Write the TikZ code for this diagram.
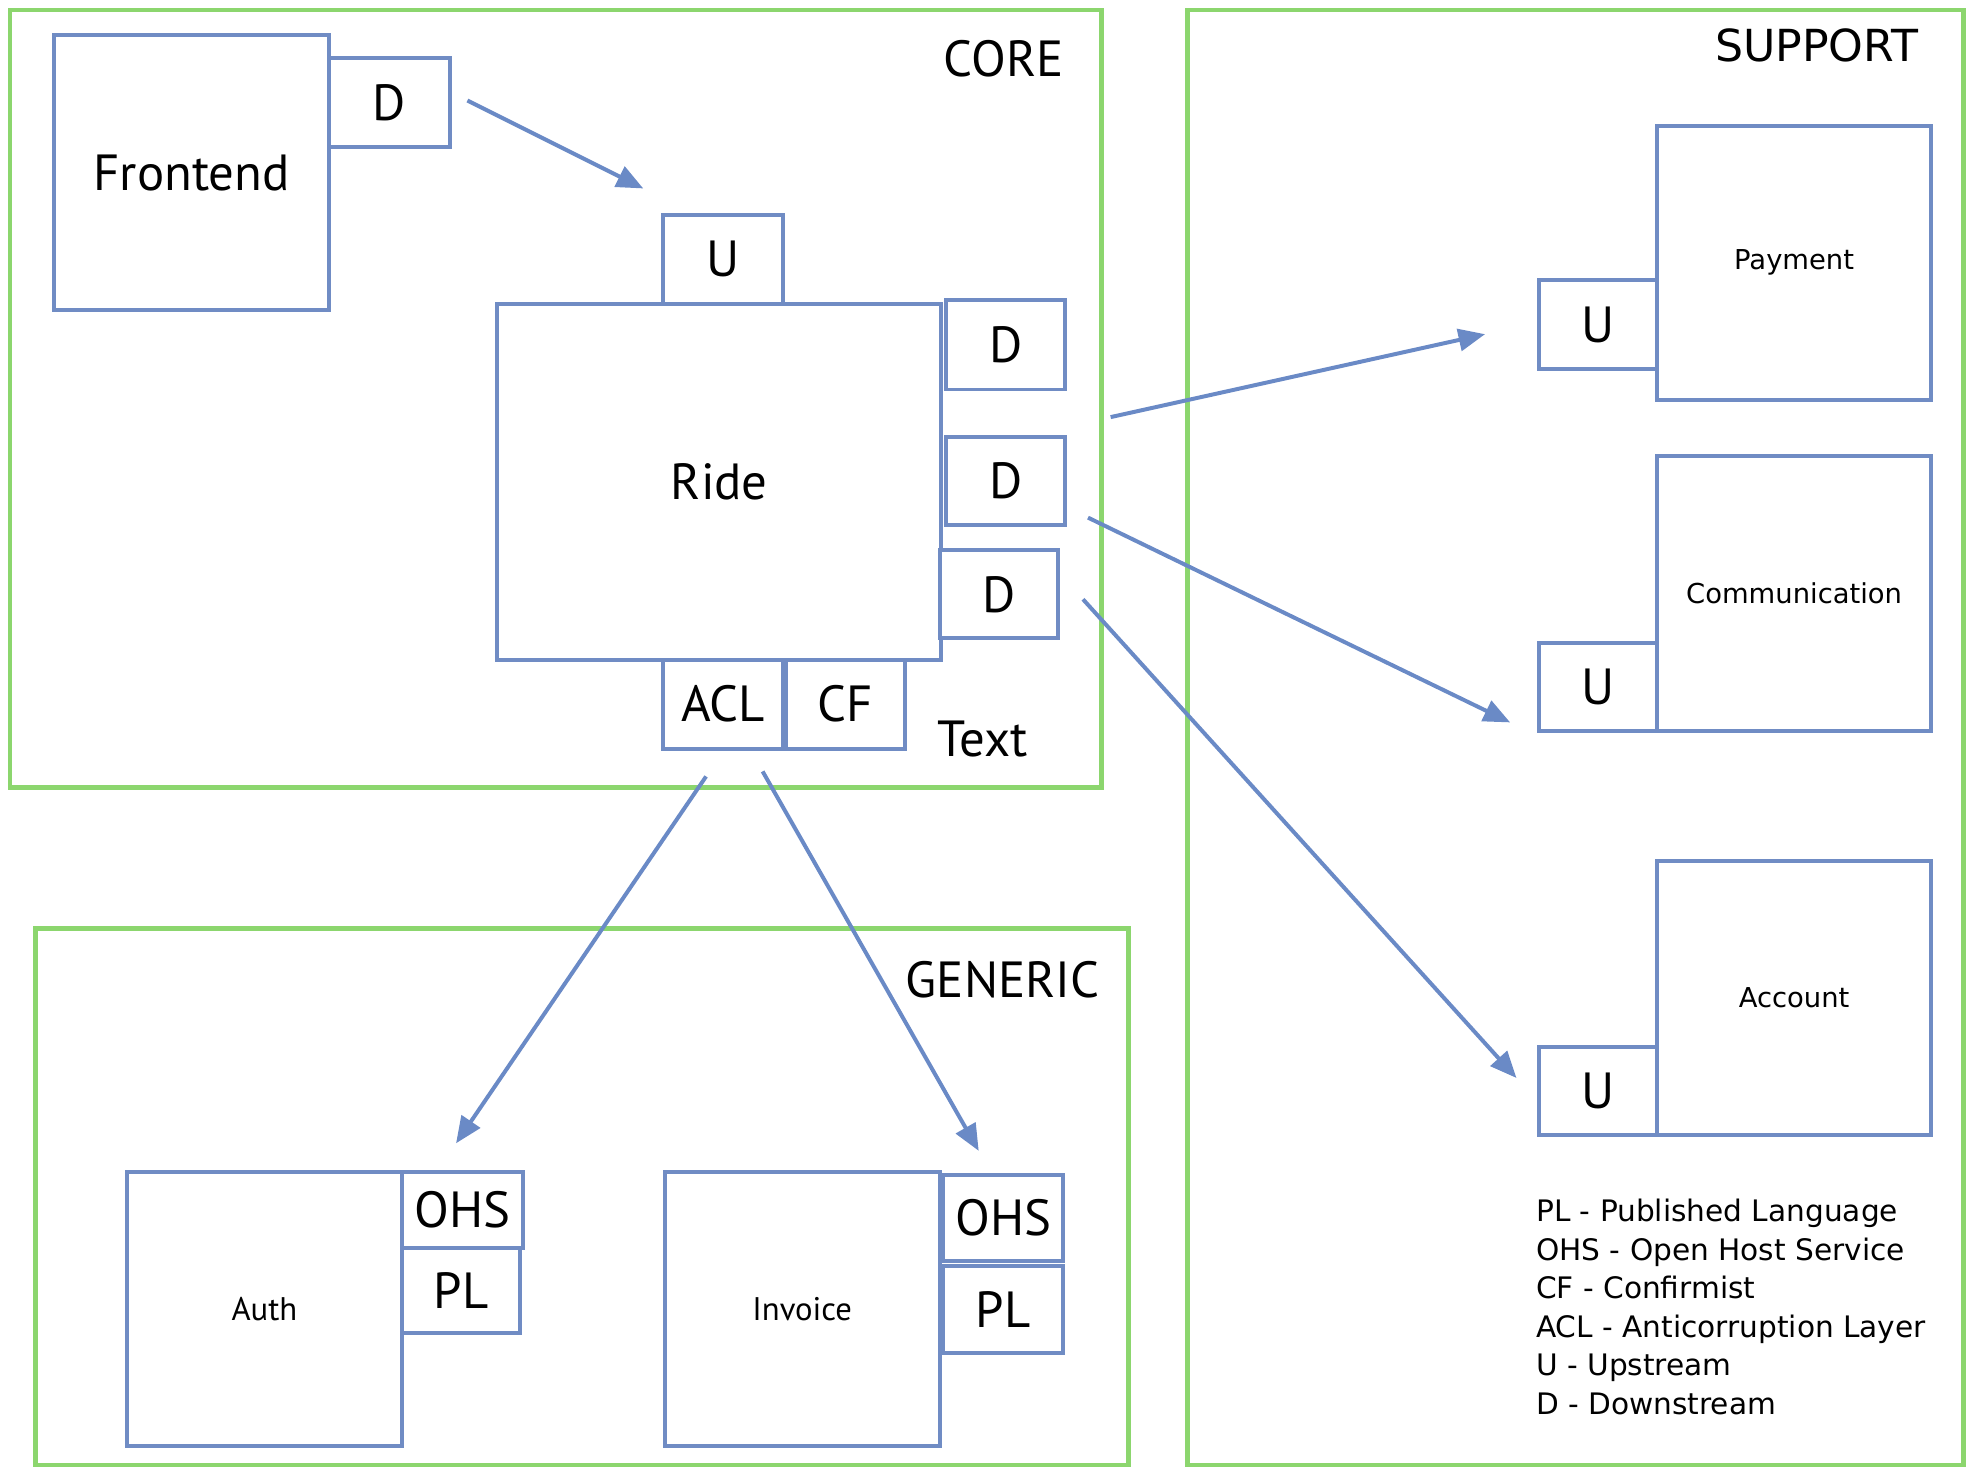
\documentclass[tikz,border=0pt]{standalone}
\usepackage{fontspec}
\setmainfont{PT Sans}
\newfontfamily\vfont{DejaVu Sans}
\usetikzlibrary{arrows.meta}
\definecolor{boxblue}{RGB}{112,140,196}
\definecolor{arrblue}{RGB}{106,138,198}
\definecolor{frgreen}{RGB}{140,214,110}
\tikzset{
  frame/.style={draw=frgreen, line width=1.1pt},
  bx/.style={draw=boxblue, line width=0.9pt, fill=white, inner sep=0pt, font=\fontsize{11.5}{13}\selectfont},
  bigbx/.style={bx},
  smallbx/.style={bx, font=\fontsize{7.4}{9}\selectfont},
  vbx/.style={bx, font=\vfont\fontsize{6.2}{8}\selectfont},
  lbl/.style={inner sep=0pt, font=\fontsize{11.5}{13}\selectfont},
  vlbl/.style={inner sep=0pt, font=\vfont\fontsize{10}{12}\selectfont},
  arr/.style={draw=arrblue, line width=0.9pt, -{Triangle[length=6pt,width=5pt]}},
}
\begin{document}
\begin{tikzpicture}[x=0.01cm, y=-0.01cm]
\useasboundingbox (0,0) rectangle (1568,1173);
% frames
\draw[frame] (8,8) rectangle (877,627);
\draw[frame] (945,8) rectangle (1563,1166);
\draw[frame] (28,739) rectangle (898,1166);
\node[lbl] (corelbl) at (799,47) {CORE};
\node[vlbl] (supportlbl) at (1446,36) {SUPPORT};
\node[lbl] (genericlbl) at (798,780) {GENERIC};
% core
\node[bigbx, minimum width=2.19cm, minimum height=2.19cm] (frontend) at (152.5,137.5) {Frontend};
\node[bx, minimum width=0.96cm, minimum height=0.71cm] (fD) at (310,81.5) {D};
\node[bx, minimum width=0.95cm, minimum height=0.71cm] (rU) at (575.5,206.5) {U};
\node[bigbx, minimum width=3.53cm, minimum height=2.83cm] (ride) at (572.5,383.5) {Ride};
\node[bx, minimum width=0.95cm, minimum height=0.71cm] (rD1) at (800.5,274.5) {D};
\node[bx, minimum width=0.95cm, minimum height=0.70cm] (rD2) at (800.5,383) {D};
\node[bx, minimum width=0.94cm, minimum height=0.70cm] (rD3) at (795,473) {D};
\node[bx, minimum width=0.95cm, minimum height=0.71cm] (acl) at (575.5,560.5) {ACL};
\node[bx, minimum width=0.94cm, minimum height=0.71cm] (cf) at (673,560.5) {CF};
\node[lbl] (textlbl) at (782,588) {Text};
% support
\node[vbx, minimum width=2.18cm, minimum height=2.18cm] (payment) at (1428,209) {Payment};
\node[bx, minimum width=0.94cm, minimum height=0.71cm] (pU) at (1272,258.5) {U};
\node[vbx, minimum width=2.18cm, minimum height=2.19cm] (comm) at (1428,472.5) {Communication};
\node[bx, minimum width=0.94cm, minimum height=0.70cm] (cU) at (1272,547) {U};
\node[vbx, minimum width=2.18cm, minimum height=2.18cm] (account) at (1428,794) {Account};
\node[bx, minimum width=0.94cm, minimum height=0.70cm] (aU) at (1272,868) {U};
\node[inner sep=0pt, anchor=north west, align=left, font=\vfont\fontsize{6.7}{8.7}\selectfont] (legend) at (1222,954) {PL - Published Language\\OHS - Open Host Service\\CF - Confirmist\\ACL - Anticorruption Layer\\U - Upstream\\D - Downstream};
% generic
\node[smallbx, minimum width=2.19cm, minimum height=2.18cm] (auth) at (210.5,1042) {Auth};
\node[bx, minimum width=0.96cm, minimum height=0.60cm] (auOHS) at (368,963) {OHS};
\node[bx, minimum width=0.94cm, minimum height=0.68cm] (auPL) at (367,1027) {PL};
\node[smallbx, minimum width=2.19cm, minimum height=2.18cm] (invoice) at (638.5,1042) {Invoice};
\node[bx, minimum width=0.95cm, minimum height=0.69cm] (inOHS) at (798.5,969.5) {OHS};
\node[bx, minimum width=0.95cm, minimum height=0.69cm] (inPL) at (798.5,1042.5) {PL};
% arrow ends
\coordinate (a1s) at (372,80);   \coordinate (a1e) at (512,150);
\coordinate (a2s) at (884,332);  \coordinate (a2e) at (1182,266);
\coordinate (a3s) at (866,412);  \coordinate (a3e) at (1202,575);
\coordinate (a4s) at (862,477);  \coordinate (a4e) at (1207,858);
\coordinate (a5s) at (562,618);  \coordinate (a5e) at (363,910);
\coordinate (a6s) at (607,614);  \coordinate (a6e) at (779,916);
\draw[arr] (a1s) -- (a1e);
\draw[arr] (a2s) -- (a2e);
\draw[arr] (a3s) -- (a3e);
\draw[arr] (a4s) -- (a4e);
\draw[arr] (a5s) -- (a5e);
\draw[arr] (a6s) -- (a6e);
\end{tikzpicture}
\end{document}
